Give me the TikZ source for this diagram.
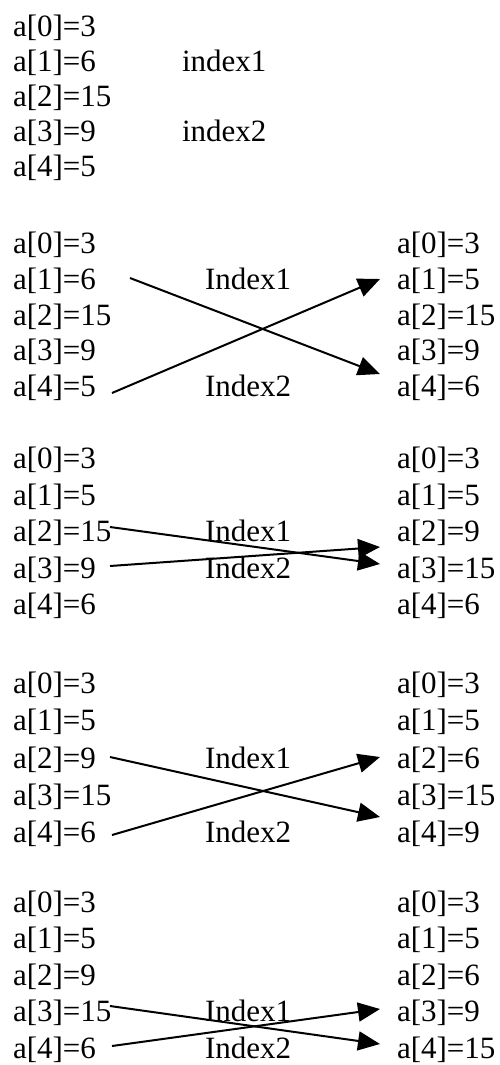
\documentclass[tikz,border=0pt]{standalone}
\usepackage{fontspec}
\setmainfont{Liberation Serif}
\usetikzlibrary{arrows.meta}
\tikzset{
  txt/.style={anchor=base west, inner sep=0pt, outer sep=0pt, font=\fontsize{31}{37}\selectfont},
  swap/.style={line width=2pt, -{Triangle[length=22pt,width=19pt]}}
}
\begin{document}
\begin{tikzpicture}[x=1pt,y=-1pt]
\useasboundingbox[fill=white] (0,0) rectangle (499,1065);
% block 1
\node[txt] (l1r0) at (13,36.5) {a[0]=3};
\node[txt] (l1r1) at (13,71.5) {a[1]=6};
\node[txt] (l1r2) at (13,106.5) {a[2]=15};
\node[txt] (l1r3) at (13,141.5) {a[3]=9};
\node[txt] (l1r4) at (13,176.5) {a[4]=5};
\node[txt] (i1a) at (182,71.5) {index1};
\node[txt] (i1b) at (182,141.5) {index2};
% block 2
\node[txt] (l2r0) at (13,253.5) {a[0]=3};
\node[txt] (l2r1) at (13,289.3) {a[1]=6};
\node[txt] (l2r2) at (13,325) {a[2]=15};
\node[txt] (l2r3) at (13,360.8) {a[3]=9};
\node[txt] (l2r4) at (13,396.5) {a[4]=5};
\node[txt] (r2r0) at (397,253.5) {a[0]=3};
\node[txt] (r2r1) at (397,289.3) {a[1]=5};
\node[txt] (r2r2) at (397,325) {a[2]=15};
\node[txt] (r2r3) at (397,360.8) {a[3]=9};
\node[txt] (r2r4) at (397,396.5) {a[4]=6};
\node[txt] (i2a) at (205,289.3) {Index1};
\node[txt] (i2b) at (205,396.5) {Index2};
\coordinate (s2a) at (130,278);
\coordinate (e2a) at (380,374);
\coordinate (s2b) at (112,393);
\coordinate (e2b) at (380,279);
\draw[swap] (s2a) -- (e2a);
\draw[swap] (s2b) -- (e2b);
% block 3
\node[txt] (l3r0) at (13,468.5) {a[0]=3};
\node[txt] (l3r1) at (13,505) {a[1]=5};
\node[txt] (l3r2) at (13,541.5) {a[2]=15};
\node[txt] (l3r3) at (13,578) {a[3]=9};
\node[txt] (l3r4) at (13,614.5) {a[4]=6};
\node[txt] (r3r0) at (397,468.5) {a[0]=3};
\node[txt] (r3r1) at (397,505) {a[1]=5};
\node[txt] (r3r2) at (397,541.5) {a[2]=9};
\node[txt] (r3r3) at (397,578) {a[3]=15};
\node[txt] (r3r4) at (397,614.5) {a[4]=6};
\node[txt] (i3a) at (205,541.5) {Index1};
\node[txt] (i3b) at (205,578) {Index2};
\coordinate (s3a) at (110,527);
\coordinate (e3a) at (380,564);
\coordinate (s3b) at (110,566);
\coordinate (e3b) at (380,547);
\draw[swap] (s3a) -- (e3a);
\draw[swap] (s3b) -- (e3b);
% block 4
\node[txt] (l4r0) at (13,693.5) {a[0]=3};
\node[txt] (l4r1) at (13,730.8) {a[1]=5};
\node[txt] (l4r2) at (13,768.1) {a[2]=9};
\node[txt] (l4r3) at (13,805.4) {a[3]=15};
\node[txt] (l4r4) at (13,842.7) {a[4]=6};
\node[txt] (r4r0) at (397,693.5) {a[0]=3};
\node[txt] (r4r1) at (397,730.8) {a[1]=5};
\node[txt] (r4r2) at (397,768.1) {a[2]=6};
\node[txt] (r4r3) at (397,805.4) {a[3]=15};
\node[txt] (r4r4) at (397,842.7) {a[4]=9};
\node[txt] (i4a) at (205,768.1) {Index1};
\node[txt] (i4b) at (205,842.7) {Index2};
\coordinate (s4a) at (110,757);
\coordinate (e4a) at (380,817);
\coordinate (s4b) at (112,835);
\coordinate (e4b) at (380,757);
\draw[swap] (s4a) -- (e4a);
\draw[swap] (s4b) -- (e4b);
% block 5
\node[txt] (l5r0) at (13,912) {a[0]=3};
\node[txt] (l5r1) at (13,948.5) {a[1]=5};
\node[txt] (l5r2) at (13,985) {a[2]=9};
\node[txt] (l5r3) at (13,1021.5) {a[3]=15};
\node[txt] (l5r4) at (13,1058) {a[4]=6};
\node[txt] (r5r0) at (397,912) {a[0]=3};
\node[txt] (r5r1) at (397,948.5) {a[1]=5};
\node[txt] (r5r2) at (397,985) {a[2]=6};
\node[txt] (r5r3) at (397,1021.5) {a[3]=9};
\node[txt] (r5r4) at (397,1058) {a[4]=15};
\node[txt] (i5a) at (205,1021.5) {Index1};
\node[txt] (i5b) at (205,1058) {Index2};
\coordinate (s5a) at (110,1006);
\coordinate (e5a) at (380,1044);
\coordinate (s5b) at (112,1046);
\coordinate (e5b) at (380,1009);
\draw[swap] (s5a) -- (e5a);
\draw[swap] (s5b) -- (e5b);
\end{tikzpicture}
\end{document}
